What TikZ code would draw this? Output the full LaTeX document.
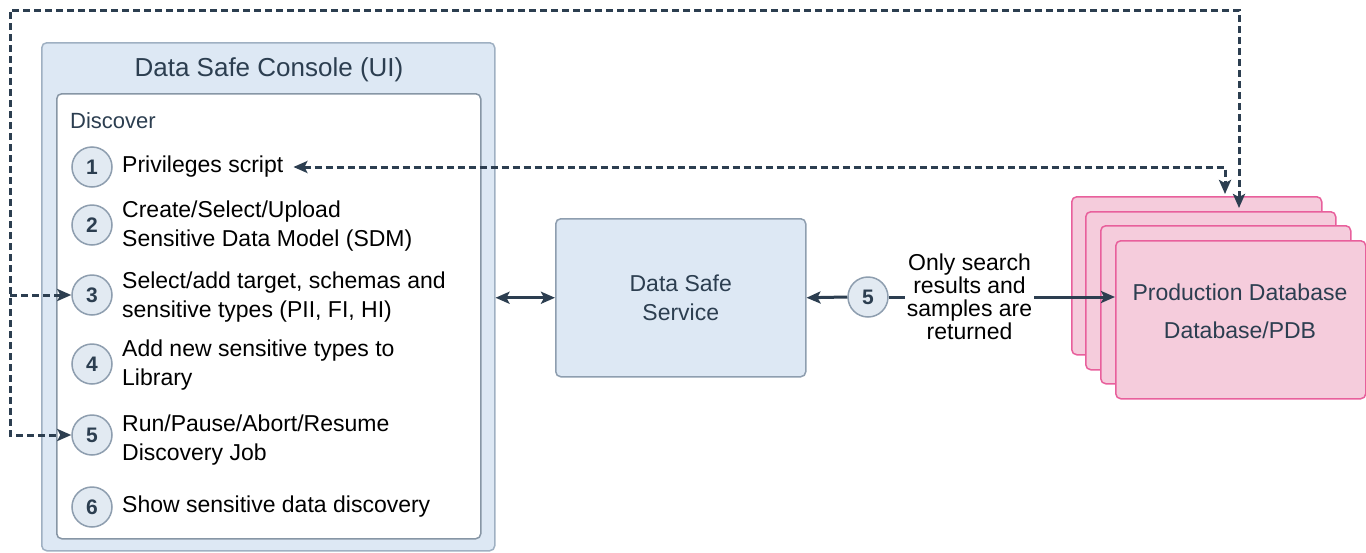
\documentclass[tikz,border=0pt]{standalone}
\usepackage{fontspec}
\setmainfont{Liberation Sans}
\usetikzlibrary{arrows.meta,calc}
\definecolor{slate}{HTML}{2C3E50}
\definecolor{consfill}{HTML}{DDE8F4}
\definecolor{consdraw}{HTML}{9FB0C2}
\definecolor{circfill}{HTML}{E2EAF2}
\definecolor{circdraw}{HTML}{8E9EAF}
\definecolor{dbfill}{HTML}{F5CCDC}
\definecolor{dbdraw}{HTML}{E8609C}
\begin{document}
\begin{tikzpicture}[x=1pt,y=-1pt,
  box/.style={draw, rounded corners=5pt, line width=1.5pt, inner sep=0pt},
  dbbox/.style={box, draw=dbdraw, fill=dbfill, minimum width=250pt, minimum height=158pt, anchor=north west},
  num/.style={circle, draw=circdraw, fill=circfill, line width=1.5pt, minimum size=40pt, inner sep=0pt,
    font=\fontsize{21}{21}\selectfont\bfseries, text=slate},
  item/.style={anchor=west, align=left, inner sep=0pt, font=\fontsize{23}{29}\selectfont},
  tip/.tip={Stealth[length=14pt,width=12pt,inset=3pt]},
  arr/.style={draw=slate, line width=3pt, -tip},
  biarr/.style={draw=slate, line width=3pt, tip-tip},
  dsh/.style={draw=slate, line width=3pt, dash pattern=on 7pt off 4pt}
]
\useasboundingbox (0,0) rectangle (1366,552);

% console
\node[box, draw=consdraw, fill=consfill, minimum width=453pt, minimum height=508pt, anchor=north west] (console) at (41,42) {};
\node[text=slate, font=\fontsize{26}{26}\selectfont] (title) at (269,70) {Data Safe Console (UI)};
\node[box, draw=consdraw!85!black, fill=white, minimum width=424pt, minimum height=445pt, anchor=north west] (inner) at (56,93) {};
\node[anchor=west, inner sep=0pt, text=slate, font=\fontsize{22}{22}\selectfont] (disc) at (70,121) {Discover};

\node[num] (c1) at (92,167) {1};
\node[num] (c2) at (92,225) {2};
\node[num] (c3) at (92,295) {3};
\node[num] (c4) at (92,364) {4};
\node[num] (c5) at (92,435) {5};
\node[num] (c6) at (92,507) {6};

\node[item] (t1) at (122,167) {Privileges script};
\node[item] (t2) at (122,226) {Create/Select/Upload\\Sensitive Data Model (SDM)};
\node[item] (t3) at (122,297) {Select/add target, schemas and\\sensitive types (PII, FI, HI)};
\node[item] (t4) at (122,365) {Add new sensitive types to\\Library};
\node[item] (t5) at (122,440) {Run/Pause/Abort/Resume\\Discovery Job};
\node[item] (t6) at (122,507) {Show sensitive data discovery};

% service
\node[box, draw=circdraw, fill=consfill, minimum width=250pt, minimum height=158pt, anchor=north west,
  align=center, text=slate, font=\fontsize{23}{29}\selectfont] (serv) at (555,218) {Data Safe\\Service};

\node[num] (c5b) at (868,297) {5};

% databases
\node[dbbox] (db1) at (1071,196) {};
\node[dbbox] (db2) at (1085,211) {};
\node[dbbox] (db3) at (1100,225) {};
\node[dbbox] (db4) at (1115,240) {};
\node[align=center, text=slate, font=\fontsize{23}{38}\selectfont, inner sep=0pt] (dbtext) at (1240,311) {Production Database\\Database/PDB};

% connectors
\draw[biarr] (console.east |- serv) -- (serv.west);
\draw[arr] (c5b.west) -- (serv.east);
\draw[arr] (c5b.east) -- node[pos=0.357, fill=white, align=center, inner sep=2pt,
  font=\fontsize{23}{23}\selectfont] (lbl) {Only search\\results and\\samples are\\returned} (c5b -| db4.west);

\draw[dsh, tip-tip]
  ([xshift=10pt]t1.east) -| ([xshift=154pt,yshift=2pt]db1.north west);

\coordinate (tl) at (10,10);
\draw[dsh, tip-tip]
  ([xshift=168pt,yshift=-12pt]db1.north west) |- (tl) |- (c5.west);
\draw[dsh, -tip] (tl |- c3.west) -- (c3.west);
\end{tikzpicture}
\end{document}
